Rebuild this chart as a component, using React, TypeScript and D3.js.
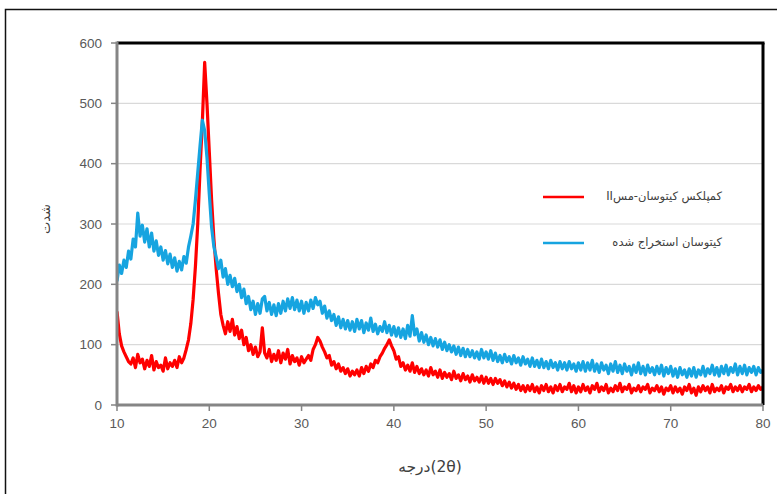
import React from "react";
import * as d3 from "d3";

// ---- Data ----
const angleStart = 10;
const angleStep = 0.25;

// Red: Chitosan–Cu(II) complex, every 0.25° from 10° to 80°
const redValues: number[] = [
  155,118,98,88,80,72,68,78,
  62,84,70,76,60,74,64,82,
  58,72,62,66,56,78,60,70,
  64,74,62,80,70,78,92,108,
  135,175,230,300,390,470,568,500,
  420,340,275,225,185,150,132,118,
  138,122,142,116,130,110,124,100,
  112,90,100,84,96,80,88,128,
  86,78,92,72,84,74,90,70,
  86,76,92,68,82,72,78,66,
  80,70,76,82,74,92,100,112,
  106,96,88,78,82,66,72,60,
  68,56,62,52,60,48,56,50,
  58,48,62,52,64,56,68,62,
  74,70,80,86,94,100,108,98,
  90,76,80,64,70,58,66,56,
  70,54,64,52,60,50,58,48,
  62,50,56,46,58,44,54,46,
  52,42,56,44,50,40,52,42,
  48,38,50,40,46,38,48,36,
  46,36,44,34,44,36,42,32,
  40,30,38,28,36,26,34,24,
  32,22,32,24,34,22,30,20,
  32,24,34,22,30,20,32,24,
  34,22,30,26,36,22,32,20,
  30,22,34,24,30,20,32,26,
  36,22,30,24,34,20,28,22,
  32,24,36,22,30,26,34,20,
  28,24,32,22,30,26,34,20,
  28,24,32,22,30,18,28,24,
  32,20,30,22,28,18,30,24,
  34,20,28,16,30,22,32,24,
  30,20,34,22,28,24,32,20,
  30,26,34,22,30,24,32,22,
  30,26,34,22,30,24,32,26,
  30,
];

// Blue: extracted chitosan, every 0.25° from 10° to 80°
const blueValues: number[] = [
  205,232,218,240,228,255,242,275,
  262,318,280,298,270,292,262,285,
  255,272,248,262,240,256,234,250,
  228,244,222,238,224,246,235,262,
  280,300,340,385,430,472,455,410,
  350,295,262,245,226,240,212,226,
  200,215,196,210,188,200,178,192,
  168,180,158,172,150,168,152,176,
  180,156,170,150,166,148,168,152,
  172,156,176,160,178,158,174,156,
  172,152,170,156,174,160,178,166,
  172,152,164,144,156,140,150,132,
  146,128,142,126,140,124,138,122,
  142,126,140,120,136,124,144,122,
  134,118,130,122,138,120,132,116,
  130,114,128,112,126,110,132,114,
  148,116,126,106,120,104,116,100,
  112,98,110,96,108,92,104,90,
  100,88,98,84,96,82,94,80,
  92,80,90,78,88,76,92,78,
  88,76,90,74,86,72,82,70,
  84,72,80,68,82,70,78,66,
  80,68,76,64,78,64,74,62,
  76,62,72,60,74,62,70,58,
  72,60,70,58,72,60,68,56,
  70,58,72,56,70,58,74,56,
  68,54,70,58,66,52,68,56,
  72,54,66,52,68,56,64,50,
  66,54,70,52,64,50,66,54,
  62,50,64,52,66,48,62,52,
  64,48,60,46,62,50,58,46,
  60,48,62,46,58,50,64,48,
  60,52,66,50,62,48,64,52,
  66,50,62,54,68,50,64,52,
  66,50,62,54,64,50,62,54,
  58,
];

const xTicks = [10, 20, 30, 40, 50, 60, 70, 80];
const yTicks = [0, 100, 200, 300, 400, 500, 600];

const seriesNames = ["کمپلکس کیتوسان-مسII", "کیتوسان استخراج شده"];
const seriesColors = ["#ff0000", "#16a4e0"];
const yTitle = "شدت";
const xTitle = "درجه\u200E(2θ)";

const W = 777;
const H = 494;
const plot = { left: 117, right: 763, top: 43, bottom: 405 };

export default function App() {
  const x = d3.scaleLinear().domain([10, 80]).range([plot.left, plot.right]);
  const y = d3.scaleLinear().domain([0, 600]).range([plot.bottom, plot.top]);

  const toPts = (vals: number[]) =>
    vals.map((v, i) => [angleStart + i * angleStep, v] as [number, number]);

  const line = d3
    .line<[number, number]>()
    .x((d) => x(d[0]))
    .y((d) => y(d[1]));

  const labelFont = "'Liberation Sans', Arial, sans-serif";

  return (
    <svg
      width={W}
      height={H}
      style={{ position: "absolute", left: 0, top: 0, background: "#fff" }}
    >
      <rect x={0} y={0} width={W} height={H} fill="#fff" />
      {/* outer frame */}
      <rect x={5.5} y={9.5} width={900} height={600} fill="none" stroke="#111" strokeWidth={1.5} />

      {/* gridlines */}
      {yTicks
        .filter((t) => t > 0 && t < 600)
        .map((t) => (
          <line key={"g" + t} x1={plot.left} x2={plot.right} y1={y(t)} y2={y(t)} stroke="#d9d9d9" strokeWidth={1.2} />
        ))}

      {/* series */}
      <defs>
        <clipPath id="plotclip">
          <rect x={plot.left} y={plot.top - 30} width={plot.right - plot.left} height={plot.bottom - plot.top + 30} />
        </clipPath>
      </defs>
      <g clipPath="url(#plotclip)">
        <path d={line(toPts(redValues)) || ""} fill="none" stroke={seriesColors[0]} strokeWidth={3.2} strokeLinejoin="round" />
        <path d={line(toPts(blueValues)) || ""} fill="none" stroke={seriesColors[1]} strokeWidth={3.2} strokeLinejoin="round" />
      </g>

      {/* plot frame: top & right black, left & bottom gray axes */}
      <line x1={plot.left} x2={plot.right + 1.5} y1={plot.top} y2={plot.top} stroke="#000" strokeWidth={3} />
      <line x1={plot.right} x2={plot.right} y1={plot.top} y2={plot.bottom} stroke="#000" strokeWidth={3} />
      <line x1={plot.left} x2={plot.left} y1={plot.top - 1.5} y2={plot.bottom + 1.5} stroke="#858585" strokeWidth={3} />
      <line x1={plot.left} x2={plot.right} y1={plot.bottom} y2={plot.bottom} stroke="#858585" strokeWidth={3} />

      {/* y ticks and labels */}
      {yTicks.map((t) => (
        <g key={"y" + t}>
          <line x1={plot.left - 6} x2={plot.left} y1={y(t)} y2={y(t)} stroke="#858585" strokeWidth={1.5} />
          <text x={102} y={y(t)} dy="0.35em" textAnchor="end" fontFamily={labelFont} fontSize={13.5} fill="#595959">
            {t}
          </text>
        </g>
      ))}

      {/* x ticks and labels */}
      {xTicks.map((t) => (
        <g key={"x" + t}>
          <line x1={x(t)} x2={x(t)} y1={plot.bottom} y2={plot.bottom + 6} stroke="#858585" strokeWidth={1.5} />
          <text x={x(t)} y={428} textAnchor="middle" fontFamily={labelFont} fontSize={13.5} fill="#595959">
            {t}
          </text>
        </g>
      ))}

      {/* axis titles */}
      <text
        transform={`translate(50,219) rotate(-90)`}
        textAnchor="middle"
        fontFamily="'DejaVu Sans', sans-serif"
        fontSize={13}
        fill="#404040"
      >
        {yTitle}
      </text>
      <text x={430} y={472} textAnchor="middle" fontFamily="'DejaVu Sans', sans-serif" fontSize={15.5} fill="#404040">
        {xTitle}
      </text>

      {/* legend */}
      {seriesNames.map((name, i) => {
        const ly = 197 + i * 46;
        return (
          <g key={"l" + i}>
            <line x1={543} x2={584} y1={ly} y2={ly} stroke={seriesColors[i]} strokeWidth={2.6} />
            <text
              x={722}
              y={ly}
              dy="0.3em"
              direction="rtl"
              textAnchor="start"
              fontFamily="'DejaVu Sans', sans-serif"
              fontSize={11.5}
              fill="#404040"
            >
              {name}
            </text>
          </g>
        );
      })}
    </svg>
  );
}
